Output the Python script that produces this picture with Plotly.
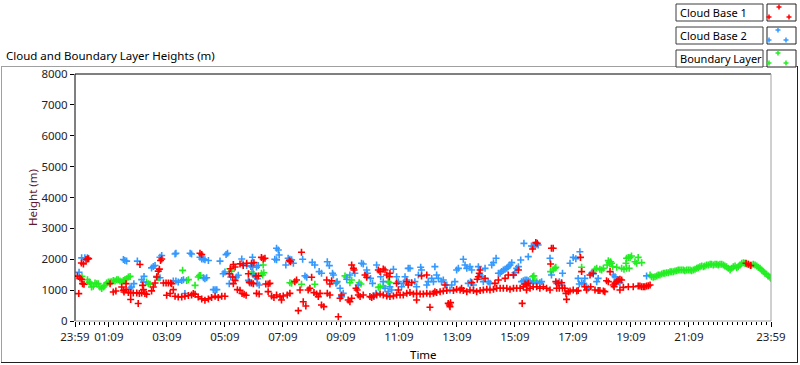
import plotly.graph_objects as go

# ---------------- data (hours after 23:59, height in m) ----------------
cb1_t = [0.08, 0.13, 0.17, 0.22, 0.22, 0.29, 0.26, 0.31, 0.38, 0.43, 0.47, 1.21, 1.32, 1.41, 1.61, 1.67, 1.69, 1.76, 1.76,
         1.84, 1.92, 1.92, 2.01, 2.13, 2.18, 2.22, 2.24, 2.30, 2.33, 2.36, 2.41, 2.47, 2.64, 2.70, 2.76, 2.82, 2.87, 2.91,
         2.95, 2.99, 3.05, 3.14, 3.22, 3.30, 3.16, 3.28, 3.33, 3.39, 3.45, 3.56, 3.68, 3.79, 3.91, 4.02, 4.08, 4.14, 4.25,
         4.31, 4.37, 4.37, 4.48, 4.60, 4.71, 4.83, 4.94, 5.06, 5.17, 5.32, 5.37, 5.46, 5.52, 5.44, 5.52, 5.46, 5.60, 5.69,
         5.76, 5.83, 5.90, 5.69, 5.80, 5.92, 5.98, 6.01, 6.09, 6.15,
         6.09, 6.17, 6.24, 6.32, 6.26, 6.35, 6.43, 6.49, 6.55, 6.58, 6.66, 6.72, 6.66, 6.78, 6.86, 6.95, 7.07, 7.12, 7.18,
         7.32, 7.39, 7.41, 7.43, 7.58, 7.64, 7.70, 7.76, 7.81, 7.87, 7.96, 8.04, 8.10, 8.16, 8.24, 8.33, 8.39, 8.45, 8.50,
         8.58, 8.68, 8.70, 8.79, 8.79, 8.85, 9.08, 9.14, 9.19, 9.42, 9.48, 9.54, 9.54, 9.60, 9.62, 9.69, 9.73, 9.77, 9.83,
         9.94, 10.00, 10.06, 10.17, 10.23, 10.29, 10.40, 10.46, 10.52, 10.52, 10.63, 10.63, 10.69, 10.75, 10.75, 10.84,
         10.86, 10.86, 10.98, 11.09, 11.09, 11.15, 11.21, 11.32, 11.44, 11.44, 11.49, 11.55, 11.61, 11.67, 11.78, 11.78,
         11.90, 11.95, 12.01, 12.13, 12.13, 12.24, 12.24, 12.36, 12.41, 12.47, 12.59, 12.70, 12.76, 12.82, 12.87, 12.91,
         12.93, 12.95, 13.05, 13.16, 13.28, 13.33, 13.39, 13.51, 13.62, 13.68, 13.74, 13.85, 13.87, 13.91, 13.94, 13.97,
         13.97, 14.08, 14.14, 14.20, 14.31, 14.43, 14.48, 14.54, 14.60, 14.66, 14.77, 14.83, 14.89, 14.94, 15.00, 15.12,
         15.12, 15.23, 15.29, 15.35, 15.42, 15.46, 15.52, 15.58, 15.63,
         15.57, 15.69, 15.78, 15.80, 15.89, 15.94, 15.92, 16.03, 16.15, 16.26, 16.38, 16.40, 16.43, 16.49, 16.58, 16.61,
         16.66, 16.70, 16.78, 16.81, 16.89, 16.93, 16.95, 17.01, 17.07, 17.18, 17.30, 17.35, 17.43, 17.47, 17.58, 17.64,
         17.76, 17.78, 17.87, 17.93, 18.04, 18.10, 18.22, 18.27, 18.33, 18.39, 18.45, 18.56, 18.59, 18.62, 18.68, 18.73,
         18.79, 18.79, 18.85, 18.91, 19.08, 19.25, 19.42, 19.48, 19.54, 19.60, 19.65, 19.71, 19.77, 19.83,
         23.14, 23.22, 23.30]
cb1_h = [1455, 888, 1390, 1350, 1880, 1850, 1210, 1190, 1990, 2010, 2020, 1210, 940, 970, 1100, 995, 940, 1015, 1210,
         920, 920, 695, 910, 910, 567, 890, 1830, 910, 1155, 1015, 890, 865, 975, 1100, 1230, 1425, 1615, 1680,
         1960, 2010, 1230, 1230, 1230, 1230, 835, 890, 1210, 1015, 800, 780, 780, 800, 825, 845, 890, 865, 780,
         2195, 2150, 715, 675, 715, 760, 800, 760, 800, 800, 1530, 1690, 1830, 1750, 1425, 1315, 1210, 1015, 995,
         890, 865, 835, 1850, 1800, 1870, 1530, 1260, 1230, 1210,
         1870, 1890, 1460, 1460, 895, 875, 2060, 2010, 2030, 1200, 1200, 1220, 950, 810, 765, 840, 790, 680, 810,
         840, 1955, 895, 1920, 1275, 1330, 335, 1005, 2225, 625, 485, 1005, 1060, 1415, 920, 875, 790, 895, 520,
         465, 1330, 895, 1200, 840, 1305, 140, 735, 840, 680, 625, 735, 1815, 1705, 1650, 1060, 1005, 840, 790,
         840, 1490, 1415, 790, 765, 810, 840, 1650, 875, 1600, 840, 1685, 1650, 810, 1490, 1435,
         790, 1545, 810, 840, 1220, 1005, 840, 840, 895, 1275, 1165, 920, 1240, 875, 895, 680,
         875, 1460, 875, 895, 1490, 875, 445, 895, 950, 920, 950, 970, 1165, 985, 570, 520,
         465, 595, 985, 1025, 1005, 1060, 985, 950, 1005, 1240, 985, 950, 1350, 1435, 1545, 1650,
         985, 1005, 1380, 1025, 1005, 1025, 1220, 1060, 1330, 1060, 1060, 1380, 1060, 1490, 1025, 1060,
         1490, 1060, 1650, 1060, 570, 1110, 1200, 1165, 1220,
         1005, 1060, 2330, 1110, 2540, 2515, 1110, 1060, 1110, 1060, 1005, 1845, 2355, 2355, 1275, 1060,
         1220, 1060, 1240, 1060, 1060, 895, 700, 950, 970, 1005, 970, 985, 2060, 1600, 1110, 1005,
         1490, 1110, 1545, 1005, 985, 985, 970, 950, 1305, 1275, 1600, 1165, 1110, 1220, 1275, 1330,
         1350, 1005, 1330, 1090, 1110, 1110, 1135, 1135, 1110, 1110, 1110, 1135, 1145, 1165,
         1870, 1835, 1795]

cb2_t = [0.14, 0.23, 0.34, 0.43, 1.67, 1.72, 1.78, 1.90, 1.95, 2.03, 2.15, 2.30, 2.36, 2.38, 2.64, 2.70, 2.76, 2.82,
         2.93, 2.93, 2.99, 3.39, 3.45, 3.48, 3.48, 3.56, 3.68, 3.74, 3.79, 3.97, 4.02, 4.31, 4.37, 4.43, 4.43, 4.48,
         4.48, 4.54, 4.60, 4.77, 4.83, 4.89, 5.00, 5.11, 5.17, 5.21, 5.26, 5.32, 5.37, 5.57, 5.63, 5.75, 5.80, 5.92,
         5.98, 6.03, 6.06, 6.13, 6.15, 6.21, 6.26, 6.29, 6.32,
         6.12, 6.24, 6.28, 6.35, 6.89, 6.95, 7.01, 6.95, 7.04, 7.27, 7.35, 7.41, 7.47, 7.53, 7.85, 7.93, 7.99, 8.18,
         8.27, 8.42, 8.50, 8.70, 8.77, 8.88, 8.91, 9.00, 9.04, 9.14, 9.19, 9.25, 9.37, 9.48, 9.65, 9.77, 9.88, 9.94,
         10.06, 10.08, 10.19, 10.26, 10.31, 10.38, 10.40, 10.54, 10.63, 10.69, 10.80, 10.86, 10.92, 10.98, 11.09,
         11.15, 11.26, 11.32, 11.38, 11.44, 11.49, 11.55, 11.72, 11.78, 11.84, 11.92, 11.95, 12.13, 12.18, 12.30,
         12.36, 12.41, 12.47, 12.53, 12.64, 12.70, 12.82, 12.93, 12.99, 13.10, 13.16, 13.22, 13.39, 13.45, 13.51,
         13.56, 13.62, 13.64, 13.68, 13.74, 13.91, 13.97, 14.02, 14.08, 14.14, 14.25, 14.31, 14.37, 14.43, 14.52,
         14.60, 14.66, 14.71, 14.77, 14.83, 14.89, 14.94, 15.00, 15.06, 15.12, 15.17, 15.23, 15.29, 15.37, 15.40,
         15.46, 15.48, 15.52, 15.58, 15.63, 15.63, 15.69,
         15.74, 15.80, 15.86, 15.92, 15.97, 15.80, 15.92, 16.03, 16.09, 16.38, 16.43, 16.61, 16.70, 16.78, 16.81,
         17.07, 17.18, 17.27, 17.35, 17.39, 17.41, 17.47, 17.53, 17.58, 17.64, 17.70, 17.81, 17.87, 17.99, 18.04,
         18.56, 18.62, 18.68, 18.73, 18.79, 19.71]
cb2_h = [1580, 2045, 2045, 2045, 1990, 1960, 1940, 1070, 1100, 1210, 1940, 1340, 1260, 1445, 1720, 1765, 1800, 1425,
         1400, 2065, 2120, 1295, 2170, 2195, 1295, 1260, 1315, 1340, 890, 2195, 2170, 2065, 2010, 2010, 1400, 1370,
         1980, 1400, 1960, 1015, 1015, 1015, 1940, 1530, 1585, 2150, 2195, 1210, 1425, 1425, 1480, 2010, 1850, 1800,
         1315, 1230, 1765, 1745, 1530, 1445, 1745, 1370, 1800,
         2065, 1435, 1220, 1165, 2000, 2355, 2300, 1980, 2140, 1815, 2030, 2000, 1980, 1870, 2000, 1460, 1415, 1900,
         1815, 1600, 1545, 1920, 1795, 1545, 1490, 1220, 1275, 1060, 790, 895, 1350, 1490, 1545, 1165, 1870, 1845,
         1650, 1545, 1380, 1220, 790, 895, 1815, 1435, 1275, 1060, 950, 1110, 1005, 1675, 1435,
         1275, 1110, 1220, 1435, 1330, 1705, 1705, 1275, 1110, 1490, 1740, 1650, 1165, 1275, 1380,
         1275, 1760, 1490, 1380, 1275, 1330, 1165, 1005, 1165, 1275, 1650, 1705, 2000, 1815, 1705,
         1220, 1760, 1275, 1650, 1165, 1760, 1490, 1435, 1275, 1705, 1275, 1220, 1815, 1890, 2030,
         1545, 1545, 1600, 1650, 1675, 1705, 1760, 1815, 1890, 1490, 1565, 1705, 1760, 1975, 1275,
         1305, 2515, 1330, 1330, 2085, 1305, 1275,
         2430, 2410, 2460, 2495, 2460, 1240, 1220, 1240, 1275, 2030, 1490, 1220, 1275, 1165, 1545,
         1870, 2060, 2020, 1380, 1200, 2245, 1240, 1220, 1380, 1110, 1060, 1545, 1525, 1275, 1380,
         1490, 1435, 1330, 1275, 1240, 1460]

bl_t = [0.24, 0.43, 0.49, 0.54, 0.57, 0.63, 0.69, 0.75, 0.80, 0.86, 0.92, 0.98, 1.03, 1.09, 1.15, 1.21, 1.26, 1.32,
        1.38, 1.44, 1.49, 1.55, 1.61, 1.67, 1.72, 1.78, 1.84, 1.90, 2.47, 2.53, 2.59, 2.82, 2.87, 3.71, 3.85, 3.91,
        4.14, 4.25, 4.29, 4.33, 5.34, 5.40, 6.09, 6.15,
        6.43, 6.47, 6.49, 6.51, 7.41, 7.47, 7.81, 8.27, 9.02, 9.31, 9.37, 9.48, 9.54, 9.80, 9.86, 10.46, 10.52, 10.63,
        10.80, 10.84,
        15.78, 15.82, 15.86, 15.92, 16.40, 16.49, 16.55, 16.58, 17.47, 17.93, 17.99, 18.10, 18.16, 18.22, 18.35, 18.39,
        18.42, 18.47, 18.50, 18.54, 18.68, 18.85, 18.93, 19.00, 19.02, 19.02, 19.08, 19.11, 19.14, 19.19, 19.31, 19.37,
        19.42, 19.54,
        19.83, 19.88, 19.94, 20.00, 20.06, 20.11, 20.17, 20.23, 20.29, 20.34, 20.40, 20.46, 20.52, 20.57, 20.63, 20.69,
        20.75, 20.80, 20.86, 20.92, 20.98, 21.03, 21.09, 21.15, 21.21, 21.26, 21.32, 21.38, 21.44, 21.49, 21.55, 21.61,
        21.67, 21.72, 21.78, 21.84, 21.90, 21.95, 22.01, 22.07, 22.13, 22.18, 22.24, 22.30, 22.36, 22.41, 22.47, 22.53,
        22.59, 22.64, 22.70, 22.76, 22.82, 22.87, 22.93, 22.99, 23.05, 23.10, 23.16, 23.22, 23.28, 23.33, 23.39, 23.45,
        23.51, 23.56, 23.62, 23.68, 23.74, 23.79, 23.85, 23.91, 23.97, 23.99]
bl_h = [1445, 1340, 1260, 1210, 1100, 1125, 1230, 1210, 1210, 1100, 1050, 1100, 1155, 1230, 1260, 1260, 1275, 1315,
        1295, 1340, 1340, 1295, 1260, 1315, 1340, 1370, 1425, 1445, 1260, 1210, 1190, 1445, 1400, 1640, 1315, 1340,
        1155, 1425, 1475, 1475, 1690, 1615, 1585, 1500,
        1545, 1490, 1815, 1565, 1240, 1220, 1190, 1190, 1255, 1460, 1415, 1240, 1330, 1240, 1200, 1090, 1110, 1135,
        1275, 1240,
        1435, 1460, 1305, 1275, 1600, 1650, 1705, 1740, 1740, 1675, 1705, 1675, 1650, 1705, 1815, 1955,
        1890, 1920, 1870, 1760, 1740, 1705, 1675, 1870, 1705, 2030, 2060, 1705, 2060, 2105, 1920, 1870,
        2060, 1890,
        1490, 1436, 1415, 1436, 1458, 1490, 1490, 1523, 1544, 1544, 1566, 1566, 1598, 1598, 1598, 1620,
        1631, 1652, 1652, 1652, 1652, 1631, 1652, 1652, 1652, 1631, 1652, 1674, 1706, 1728, 1760, 1782,
        1760, 1782, 1814, 1814, 1836, 1836, 1814, 1836, 1836, 1814, 1836, 1836, 1814, 1782, 1760, 1706,
        1652, 1706, 1760, 1782, 1728, 1760, 1814, 1868, 1890, 1868, 1847, 1836, 1814, 1814, 1836, 1814,
        1782, 1739, 1706, 1652, 1598, 1544, 1512, 1458, 1415, 1382]

tick_vals = [0, 1 + 10 / 60, 3 + 10 / 60, 5 + 10 / 60, 7 + 10 / 60, 9 + 10 / 60, 11 + 10 / 60, 13 + 10 / 60,
             15 + 10 / 60, 17 + 10 / 60, 19 + 10 / 60, 21 + 10 / 60, 24]
tick_text = ["23:59", "01:09", "03:09", "05:09", "07:09", "09:09", "11:09", "13:09", "15:09", "17:09", "19:09",
             "21:09", "23:59"]
y_ticks = [0, 1000, 2000, 3000, 4000, 5000, 6000, 7000, 8000]

series_names = ["Cloud Base 1", "Cloud Base 2", "Boundary Layer"]
series_colors = ["#ff0000", "#3399ff", "#22ee22"]

# ---------------- layout geometry (pixels) ----------------
W, H = 800, 365
PL, PR, PT, PB = 75, 771, 74, 321
FONT = "Segoe UI, Noto Sans, Open Sans, sans-serif"


def fx(x):
    return (x - PL) / (PR - PL)


def fy(y):
    return (PB - y) / (PB - PT)


fig = go.Figure()
order = [(bl_t, bl_h, 2), (cb2_t, cb2_h, 1), (cb1_t, cb1_h, 0)]
for t, h, i in order:
    fig.add_trace(go.Scatter(x=t, y=h, mode="markers", name=series_names[i], showlegend=False,
                             marker=dict(symbol="cross-thin", size=5,
                                         line=dict(width=1.6, color=series_colors[i]))))

shapes = []


def line(x0, y0, x1, y1, color, width=1):
    shapes.append(dict(type="line", xref="paper", yref="paper", x0=fx(x0), y0=fy(y0), x1=fx(x1), y1=fy(y1),
                       line=dict(color=color, width=width), layer="above"))


def rect(x0, y0, x1, y1, color, fill="white"):
    shapes.append(dict(type="rect", xref="paper", yref="paper", x0=fx(x0), y0=fy(y0), x1=fx(x1), y1=fy(y1),
                       line=dict(color=color, width=1), fillcolor=fill, layer="above"))


# outer frame
line(1, 66.5, 798, 66.5, "#a0a0a0")
line(1.5, 66, 1.5, 362, "#a0a0a0")
line(1, 362.5, 798, 362.5, "#202020")
line(797.5, 66, 797.5, 363, "#202020")
# plot frame
line(PL, PT, PR, PT, "#000000")
line(PL, PT, PL, PB, "#000000")
line(PR, PT, PR, PB, "#a0a0a0")
line(PL, PB, PR, PB, "#a0a0a0")

# legend
annotations = []
rows = [4, 27, 50]
cross_pos = [[(779, 7), (769, 17), (789, 17)], [(778, 30), (769, 40), (786, 40)], [(778, 53), (769, 63), (786, 63)]]
for i, top in enumerate(rows):
    rect(676, top, 763, top + 17, "#3c3c3c")
    rect(767, top, 796, top + 17, "#202020")
    for cx, cy in cross_pos[i]:
        line(cx - 2.5, cy, cx + 2.5, cy, series_colors[i], 1.5)
        line(cx, cy - 2.5, cx, cy + 2.5, series_colors[i], 1.5)
    annotations.append(dict(text=series_names[i], xref="paper", yref="paper", x=fx(678), y=fy(top + 8.5),
                            xanchor="left", yanchor="middle", showarrow=False,
                            font=dict(family=FONT, size=11, color="#000000")))

annotations.append(dict(text="Cloud and Boundary Layer Heights (m)", xref="paper", yref="paper", x=fx(4),
                        y=fy(56), xanchor="left", yanchor="middle", showarrow=False,
                        font=dict(family=FONT, size=11.5, color="#000000")))
annotations.append(dict(text="Time", xref="paper", yref="paper", x=fx(423), y=fy(354), xanchor="center",
                        yanchor="middle", showarrow=False, font=dict(family=FONT, size=11.5, color="#000000")))
annotations.append(dict(text="Height (m)", xref="paper", yref="paper", x=fx(32), y=fy(198), xanchor="center",
                        yanchor="middle", textangle=-90, showarrow=False,
                        font=dict(family=FONT, size=11.5, color="#5c1a33")))

fig.update_layout(
    width=W, height=H,
    margin=dict(l=PL, r=W - PR, t=PT, b=H - PB, pad=0),
    paper_bgcolor="white", plot_bgcolor="white",
    showlegend=False,
    shapes=shapes, annotations=annotations,
    xaxis=dict(range=[0, 24], tickmode="array", tickvals=tick_vals, ticktext=tick_text, showgrid=False,
               zeroline=False, showline=False, ticks="outside", ticklen=5, tickcolor="#000000", tickwidth=1,
               tickfont=dict(family=FONT, size=11.5, color="#1e1e1e"),
               minor=dict(tickmode="linear", tick0=0, dtick=1 / 6, ticks="outside", ticklen=3,
                          tickcolor="#000000", showgrid=False)),
    yaxis=dict(range=[0, 8000], tickmode="array", tickvals=y_ticks, showgrid=False, zeroline=False,
               showline=False, ticks="outside", ticklen=4, tickcolor="#000000", tickwidth=1,
               tickfont=dict(family=FONT, size=11.5, color="#1e1e1e")),
)

fig.write_html("out.html", config={"displayModeBar": False},
               post_script="document.body.style.margin='0px';document.body.style.overflow='hidden';")
